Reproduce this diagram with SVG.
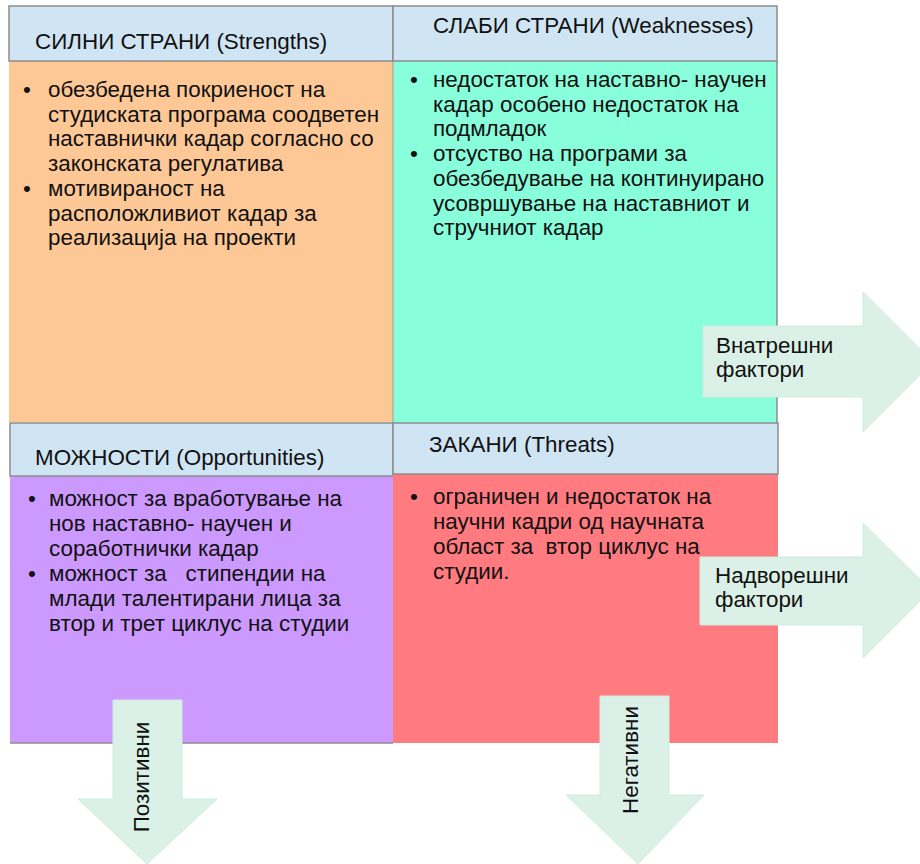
<svg xmlns="http://www.w3.org/2000/svg" width="920" height="864" viewBox="0 0 920 864">
<style>
text{font-family:"Liberation Sans",Arial,sans-serif;font-size:22.4px;fill:#111;white-space:pre}
.hdr{fill:#d0e5f3;stroke:#8c8c8c;stroke-width:1.5}
.arr{fill:#dbf1e7;stroke:#d0ebdf;stroke-width:1}
.ln{stroke:#8c8c8c;stroke-width:1.5;fill:none}
</style>
<rect width="920" height="864" fill="#fff"/>
<g id="strengths">
<rect x="9" y="61" width="384" height="361" fill="#fec896"/>
<rect class="hdr" x="9" y="6" width="384" height="55"/>
<text x="35" y="49">СИЛНИ СТРАНИ (Strengths)</text>
<text x="23" y="97">•</text><text x="48" y="97">обезбедена покриеност на</text>
<text x="48" y="121.7">студиската програма соодветен</text>
<text x="48" y="146.4">наставнички кадар согласно со</text>
<text x="48" y="171.1">законската регулатива</text>
<text x="23" y="195.8">•</text><text x="48" y="195.8">мотивираност на</text>
<text x="48" y="220.5">расположливиот кадар за</text>
<text x="48" y="245.2">реализација на проекти</text>
</g>
<g id="weaknesses">
<rect x="393" y="61" width="384" height="362" fill="#88fedb"/>
<line class="ln" x1="777" y1="61" x2="777" y2="423"/>
<line class="ln" x1="393" y1="61" x2="393" y2="423" stroke-opacity="0.5"/>
<rect class="hdr" x="393" y="6" width="384" height="55"/>
<text x="433" y="33">СЛАБИ СТРАНИ (Weaknesses)</text>
<text x="410" y="87">•</text><text x="433" y="87">недостаток на наставно- научен</text>
<text x="433" y="111.7">кадар особено недостаток на</text>
<text x="433" y="136.4">подмладок</text>
<text x="410" y="161.1">•</text><text x="433" y="161.1">отсуство на програми за</text>
<text x="433" y="185.8">обезбедување на континуирано</text>
<text x="433" y="210.5">усовршување на наставниот и</text>
<text x="433" y="235.2">стручниот кадар</text>
</g>
<g id="opportunities">
<rect x="10" y="476" width="383" height="267" fill="#cc99fe"/>
<line class="ln" x1="10" y1="743" x2="393" y2="743"/>
<rect class="hdr" x="10" y="423" width="383" height="53"/>
<text x="35" y="465">МОЖНОСТИ (Opportunities)</text>
<text x="28" y="506">•</text><text x="49" y="506">можност за вработување на</text>
<text x="49" y="531">нов наставно- научен и</text>
<text x="49" y="556">соработнички кадар</text>
<text x="28" y="581">•</text><text x="49" y="581">можност за   стипендии на</text>
<text x="49" y="606">млади талентирани лица за</text>
<text x="49" y="631">втор и трет циклус на студии</text>
</g>
<g id="threats">
<rect x="393" y="474" width="385" height="269" fill="#ff7b80"/>
<rect class="hdr" x="393" y="423" width="385" height="51"/>
<text x="429" y="452">ЗАКАНИ (Threats)</text>
<text x="410" y="504">•</text><text x="433" y="504">ограничен и недостаток на</text>
<text x="433" y="529">научни кадри од научната</text>
<text x="433" y="554">област за  втор циклус на</text>
<text x="433" y="579">студии.</text>
</g>
<g id="connectors">
<g id="internal">
<path class="arr" d="M703 326 H863 V292 L933 362 L863 432 V397 H703 Z"/>
<text x="716" y="353">Внатрешни</text>
<text x="716" y="377">фактори</text>
</g>
<g id="external">
<path class="arr" d="M700 557 H863 V523 L931 590 L863 658 V625 H700 Z"/>
<text x="715" y="583">Надворешни</text>
<text x="715" y="607">фактори</text>
</g>
<g id="positive">
<path class="arr" d="M113 700 H182 V799 H217 L147 864 L78 799 H113 Z"/>
<text transform="translate(149 777) rotate(-90)" text-anchor="middle">Позитивни</text>
</g>
<g id="negative">
<path class="arr" d="M600 696 H669 V795 H704 L638 864 L566 795 H600 Z"/>
<text transform="translate(638 760) rotate(-90)" text-anchor="middle">Негативни</text>
</g>
</g>
</svg>
